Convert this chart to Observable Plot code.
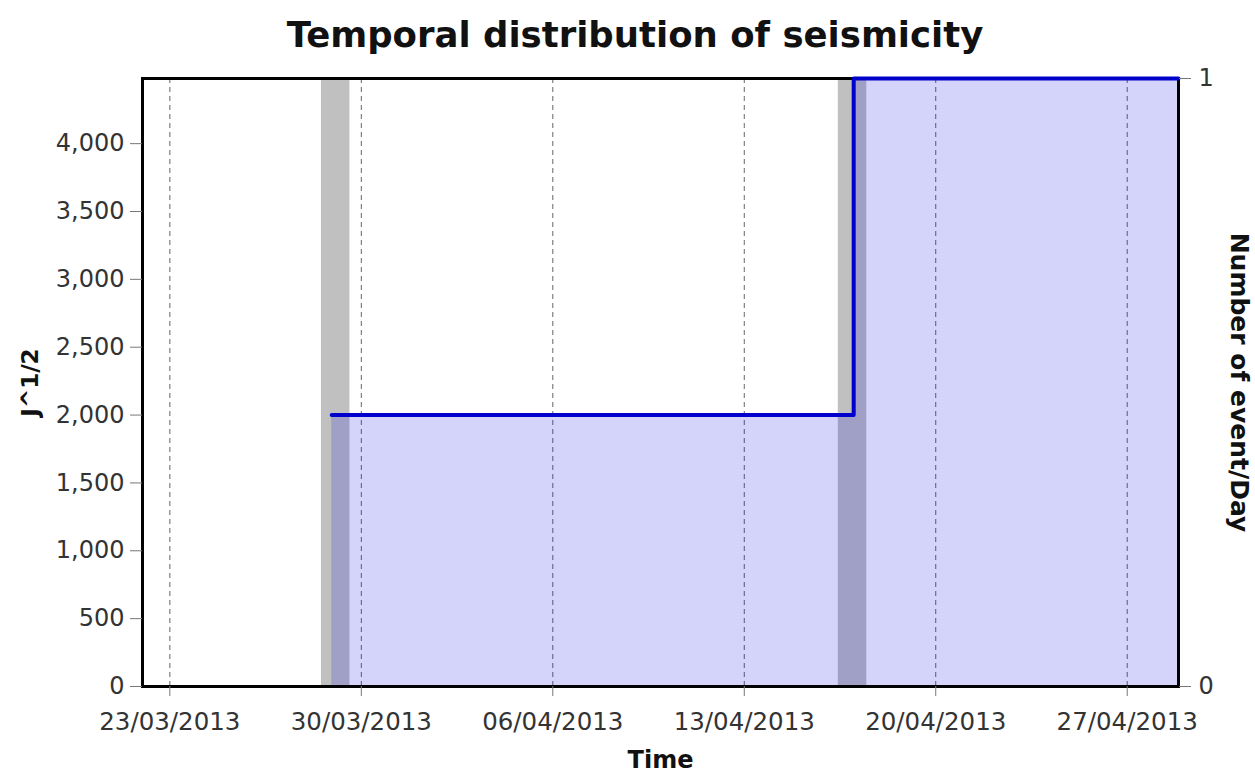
<!DOCTYPE html>
<html>
<head>
<meta charset="utf-8">
<script src="https://cdn.jsdelivr.net/npm/d3@7"></script>
<script src="https://cdn.jsdelivr.net/npm/@observablehq/plot@0.6"></script>
<style>
  html, body { margin: 0; padding: 0; background: #fff; }
  #title {
    height: 62px; line-height: 70px; margin-left: 15px; width: 1240px;
    text-align: center; font-family: "DejaVu Sans", sans-serif; font-weight: bold;
    font-size: 35.5px; color: #111; white-space: nowrap; overflow: visible;
  }
  #chart svg { display: block; }
</style>
</head>
<body>
<div id="title">Temporal distribution of seismicity</div>
<div id="chart"></div>
<script>
// ---- data ----
const stepTimes  = ["2013-03-28 22:00", "2013-04-17 00:00", "2013-04-28 21:00"];
const stepValues = [2000, 4480, 4480];               // J^1/2 (cumulative)
const eventStart = ["2013-03-28 13:00", "2013-04-16 10:30"];
const eventEnd   = ["2013-03-29 14:00", "2013-04-17 11:30"];
const eventCounts = [1, 1];                          // number of events per day
const xTickDates = ["2013-03-23", "2013-03-30", "2013-04-06", "2013-04-13", "2013-04-20", "2013-04-27"];
const yTicks = [0, 500, 1000, 1500, 2000, 2500, 3000, 3500, 4000];
const rightTicks = [0, 1];
const xDomainStr = ["2013-03-22 00:00", "2013-04-28 21:00"];
const yMax = 4480;

// ---- build ----
const parseT = d3.utcParse("%Y-%m-%d %H:%M");
const parseD = d3.utcParse("%Y-%m-%d");
const steps = stepTimes.map((t, i) => ({t: parseT(t), v: stepValues[i]}));
const events = eventStart.map((s, i) => ({s: parseT(s), e: parseT(eventEnd[i]), n: eventCounts[i]}));
const xTicks = xTickDates.map(parseD);
const fmtDate = d3.utcFormat("%d/%m/%Y");

const FONT = "DejaVu Sans";

const chart = Plot.plot({
  width: 1255,
  height: 711,
  marginTop: 16,
  marginBottom: 87,
  marginLeft: 142,
  marginRight: 77,
  style: {fontFamily: FONT, fontSize: "24px", background: "#fff", overflow: "visible"},
  x: {type: "utc", domain: xDomainStr.map(parseT)},
  y: {domain: [0, yMax]},
  marks: [
    Plot.ruleX(xTicks, {stroke: "#666", strokeWidth: 1, strokeDasharray: "5,4"}),
    Plot.rect(events, {x1: "s", x2: "e", y1: 0, y2: d => d.n * yMax, fill: "#c0c0c0"}),
    Plot.areaY(steps, {x: "t", y: "v", curve: "step-after", fill: "rgb(10,10,225)", fillOpacity: 0.175}),
    Plot.frame({stroke: "#000", strokeWidth: 3}),
    Plot.lineY(steps, {x: "t", y: "v", curve: "step-after", stroke: "#0000cc", strokeWidth: 4}),
    Plot.axisX({ticks: xTicks, tickFormat: fmtDate, tickSize: 10, tickPadding: 16, stroke: "#777", fill: "#333", fontSize: 24.5, label: null}),
    Plot.axisY({anchor: "left", ticks: yTicks, tickFormat: d3.format(","), tickSize: 12, tickPadding: 6, stroke: "#777", fill: "#333", fontSize: 24, label: null}),
    Plot.axisY({anchor: "right", ticks: rightTicks.map(v => v * yMax), tickFormat: d => String(Math.round(d / yMax)), tickSize: 12, tickPadding: 8, stroke: "#777", fill: "#333", fontSize: 24, label: null}),
    Plot.text(["J^1/2"], {frameAnchor: "left", dx: -112, rotate: -90, textAnchor: "middle", lineAnchor: "middle", fontWeight: "bold", fontSize: 23, fill: "#111"}),
    Plot.text(["Number of event/Day"], {frameAnchor: "right", dx: 60, rotate: 90, textAnchor: "middle", lineAnchor: "middle", fontWeight: "bold", fontSize: 25, fill: "#111"}),
    Plot.text(["Time"], {frameAnchor: "bottom", dy: 74, textAnchor: "middle", lineAnchor: "middle", fontWeight: "bold", fontSize: 24, fill: "#111"})
  ]
});
document.getElementById("chart").appendChild(chart);
</script>
</body>
</html>
